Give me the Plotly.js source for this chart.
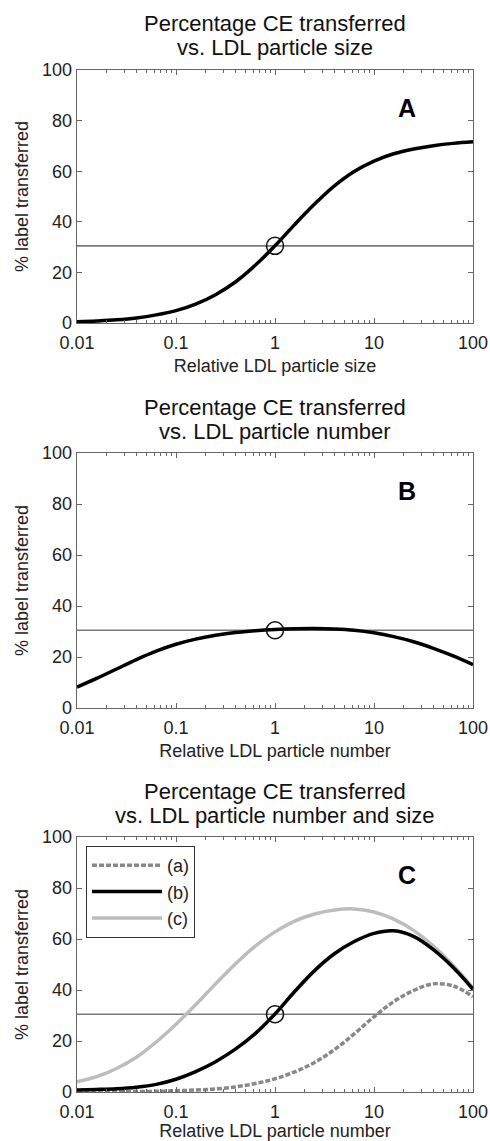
<!DOCTYPE html>
<html>
<head>
<meta charset="utf-8">
<script src="https://cdn.plot.ly/plotly-3.0.1.min.js"></script>
<style>html,body{margin:0;padding:0;background:#fff;}#chart{width:490px;height:1141px;}</style>
</head>
<body>
<div id="chart"></div>
<script>
const xVals = [0.01,0.0158,0.0251,0.0398,0.0631,0.1,0.158,0.251,0.398,0.631,1,1.58,2.51,3.98,6.31,10,15.8,25.1,39.8,63.1,100];
const sizeCurve   = [0.5,0.8,1.25,2.0,3.2,4.9,7.5,11.2,16.2,22.8,30.5,38.9,47.0,54.2,59.9,64.0,66.9,68.8,70.1,71.0,71.6];
const numberCurve = [8.2,11.6,15.3,19.0,22.3,25.0,27.0,28.5,29.6,30.3,30.8,31.1,31.2,31.0,30.5,29.5,28.0,26.0,23.4,20.4,17.0];
const seriesA = [0.05,0.07,0.1,0.15,0.25,0.5,0.8,1.2,2.0,3.3,5.2,7.9,11.6,16.6,22.8,29.5,35.4,39.8,42.4,41.6,37.4];
const seriesB = [0.8,1.0,1.3,1.9,3.0,5.0,8.0,11.9,16.8,22.9,30.6,39.4,47.6,54.2,59.0,62.2,63.2,61.0,55.8,48.8,40.3];
const seriesC = [4.0,6.0,9.2,13.6,19.6,26.6,34.2,42.4,50.2,57.2,62.8,67.0,69.8,71.4,71.8,70.6,67.8,63.4,57.2,49.6,40.7];
const refLevel = 30.5;
const refX = 1;
const xRange = [0.01, 100];
const xTickVals = [0.01,0.1,1,10,100];
const xTickText = ['0.01','0.1','1','10','100'];
const minorTicks = [0.02,0.03,0.04,0.05,0.06,0.07,0.08,0.09,0.2,0.3,0.4,0.5,0.6,0.7,0.8,0.9,2,3,4,5,6,7,8,9,20,30,40,50,60,70,80,90];
const yTickVals = [0,20,40,60,80,100];
const titleLine1 = ['Percentage CE transferred','Percentage CE transferred','Percentage CE transferred'];
const titleLine2 = ['vs. LDL particle size','vs. LDL particle number','vs. LDL particle number and size'];
const xTitles = ['Relative LDL particle size','Relative LDL particle number','Relative LDL particle number'];
const yTitle = '% label transferred';
const panelLetters = ['A','B','C'];
const legendNames = ['(a)','(b)','(c)'];

// ---- layout geometry ----
const FONT = 'Liberation Sans, Arial, Helvetica, sans-serif';
const W = 490, H = 1141;
const xDom = [77/W, 473/W];
const yDoms = [[1-323/H, 1-70/H],[1-708/H, 1-453/H],[1-1092/H, 1-837/H]];

const traces = [];
const axKeys = ['', '2', '3'];
function refTrace(k){
  traces.push({x: xRange, y: [refLevel, refLevel], xaxis: 'x'+k, yaxis: 'y'+k, mode:'lines',
    line:{color:'#7a7a7a', width:1.6}, showlegend:false, hoverinfo:'skip'});
}
function circleTrace(k){
  traces.push({x:[refX], y:[refLevel], xaxis:'x'+k, yaxis:'y'+k, mode:'markers',
    marker:{symbol:'circle-open', size:17, color:'#111', line:{width:1.5, color:'#111'}}, showlegend:false});
}
const SM = 1;
// Panel A
refTrace('');
traces.push({x:xVals, y:sizeCurve, xaxis:'x', yaxis:'y', mode:'lines', line:{color:'#000', width:3.5, shape:'spline', smoothing:SM}, showlegend:false});
circleTrace('');
// Panel B
refTrace('2');
traces.push({x:xVals, y:numberCurve, xaxis:'x2', yaxis:'y2', mode:'lines', line:{color:'#000', width:3.5, shape:'spline', smoothing:SM}, showlegend:false});
circleTrace('2');
// Panel C
refTrace('3');
traces.push({x:xVals, y:seriesC, xaxis:'x3', yaxis:'y3', mode:'lines', name:legendNames[2], legendgroup:'c', legendrank:3,
  line:{color:'#bdbdbd', width:3.5, shape:'spline', smoothing:SM}});
traces.push({x:xVals, y:seriesA, xaxis:'x3', yaxis:'y3', mode:'lines', name:legendNames[0], legendgroup:'a', legendrank:1,
  line:{color:'#888888', width:3.5, dash:'5px,2px', shape:'spline', smoothing:SM}});
traces.push({x:xVals, y:seriesB, xaxis:'x3', yaxis:'y3', mode:'lines', name:legendNames[1], legendgroup:'b', legendrank:2,
  line:{color:'#000', width:3.5, shape:'spline', smoothing:SM}});
circleTrace('3');

const layout = {
  width: W, height: H,
  margin:{l:0, r:0, t:0, b:0},
  paper_bgcolor:'#fff', plot_bgcolor:'#fff',
  font:{family:FONT, color:'#222', size:18},
  showlegend:true,
  legend:{x:86/W, y:1-846/H, xanchor:'left', yanchor:'top', bordercolor:'#333', borderwidth:1,
    bgcolor:'#fff', font:{size:18, color:'#222', family:FONT}, itemwidth:70, tracegroupgap:4,
    traceorder:'normal'},
  annotations: [],
};
axKeys.forEach((k, i) => {
  layout['xaxis'+k] = {
    domain: xDom, anchor:'y'+k, type:'log', range:[-2, 2],
    tickmode:'array', tickvals:xTickVals, ticktext:xTickText,
    ticks:'inside', ticklen:5, tickcolor:'#666', mirror:'allticks',
    showline:true, linecolor:'#666', linewidth:1.3, showgrid:false, zeroline:false,
    tickfont:{size:18, color:'#222', family:FONT}, ticklabelstandoff:3,
    minor:{tickmode:'array', tickvals:minorTicks, ticks:'inside', ticklen:3, tickcolor:'#666', showgrid:false},
    title:{text:xTitles[i], font:{size:18, color:'#222', family:FONT}, standoff:7},
    automargin:false
  };
  layout['yaxis'+k] = {
    domain: yDoms[i], anchor:'x'+k, range:[0, 100],
    tickmode:'array', tickvals:yTickVals,
    ticks:'inside', ticklen:5, tickcolor:'#666', mirror:'allticks',
    showline:true, linecolor:'#666', linewidth:1.3, showgrid:false, zeroline:false,
    tickfont:{size:18, color:'#222', family:FONT},
    title:{text:yTitle, font:{size:18, color:'#222', family:FONT}, standoff:8},
    automargin:false
  };
  layout.annotations.push({
    text: titleLine1[i], xref:'x'+k+' domain', yref:'y'+k+' domain', x:0.5, y:1,
    xanchor:'center', yanchor:'middle', yshift:46, showarrow:false,
    font:{size:22, color:'#111', family:FONT}
  });
  layout.annotations.push({
    text: titleLine2[i], xref:'x'+k+' domain', yref:'y'+k+' domain', x:0.5, y:1,
    xanchor:'center', yanchor:'middle', yshift:22, showarrow:false,
    font:{size:22, color:'#111', family:FONT}
  });
  layout.annotations.push({
    text: '<b>'+panelLetters[i]+'</b>', xref:'x'+k+' domain', yref:'y'+k+' domain', x:0.833, y:0.85,
    xanchor:'center', yanchor:'middle', showarrow:false,
    font:{size:25, color:'#000', family:FONT}
  });
});

Plotly.newPlot('chart', traces, layout, {displayModeBar:false, staticPlot:true});
</script>
</body>
</html>
